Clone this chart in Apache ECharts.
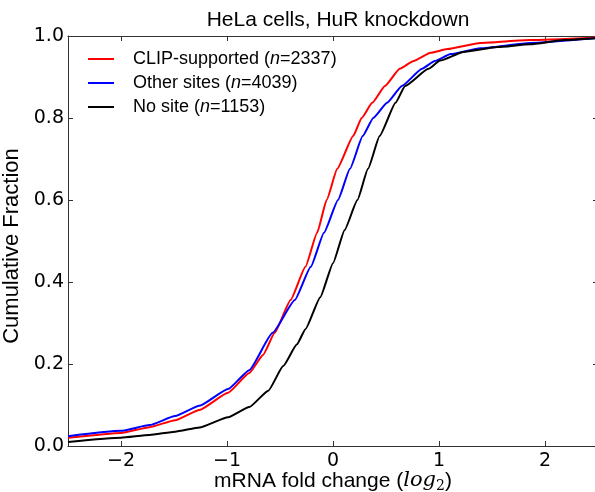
<!DOCTYPE html>
<html>
<head>
<meta charset="utf-8">
<script src="https://cdn.jsdelivr.net/npm/echarts@6/dist/echarts.min.js"></script>
<style>
html,body{margin:0;padding:0;background:#fff;}
#chart{width:595px;height:492px;}
</style>
</head>
<body>
<div id="chart"></div>
<script>
// ---- data ----
const titleText = 'HeLa cells, HuR knockdown';
const xLabelText = 'mRNA fold change';
const yLabelText = 'Cumulative Fraction';
const seriesNames = ['CLIP-supported', 'Other sites', 'No site'];
const seriesCounts = [2337, 4039, 1153];
const seriesColors = ['#ff0000', '#0000ff', '#000000'];
const xTicks = [-2, -1, 0, 1, 2];
const yTicks = [0, 0.2, 0.4, 0.6, 0.8, 1.0];

const clipX = [-2.5, -2.0, -1.73, -1.49, -1.26, -0.99, -0.79, -0.66, -0.55, -0.40, -0.26, -0.15, -0.06, 0.04, 0.19, 0.27, 0.37, 0.49, 0.63, 0.76, 0.92, 1.08, 1.39, 1.86, 2.5];
const clipY = [0.020, 0.032, 0.046, 0.063, 0.088, 0.130, 0.178, 0.222, 0.276, 0.356, 0.437, 0.520, 0.600, 0.676, 0.756, 0.800, 0.837, 0.878, 0.920, 0.939, 0.959, 0.968, 0.983, 0.990, 0.997];

const otherX = [-2.5, -2.0, -1.73, -1.49, -1.26, -0.99, -0.79, -0.57, -0.36, -0.21, -0.085, 0.047, 0.16, 0.28, 0.38, 0.51, 0.65, 0.84, 0.96, 1.11, 1.39, 1.86, 2.5];
const otherY = [0.024, 0.037, 0.051, 0.073, 0.098, 0.139, 0.185, 0.276, 0.356, 0.437, 0.520, 0.600, 0.676, 0.756, 0.800, 0.837, 0.878, 0.920, 0.939, 0.956, 0.970, 0.983, 0.995];

const noneX = [-2.5, -2.0, -1.73, -1.49, -1.26, -0.99, -0.79, -0.61, -0.47, -0.34, -0.26, -0.12, 0.0, 0.11, 0.23, 0.33, 0.44, 0.59, 0.68, 0.90, 1.01, 1.23, 1.55, 1.86, 2.18, 2.5];
const noneY = [0.010, 0.020, 0.027, 0.035, 0.045, 0.070, 0.095, 0.135, 0.195, 0.248, 0.285, 0.363, 0.446, 0.527, 0.600, 0.676, 0.756, 0.837, 0.878, 0.920, 0.940, 0.961, 0.973, 0.980, 0.990, 0.995];

// ---- build ----
const seriesXs = [clipX, otherX, noneX];
const seriesYs = [clipY, otherY, noneY];
const zip = (xs, ys) => xs.map((x, i) => [x, ys[i]]);

const chart = echarts.init(document.getElementById('chart'), null, {renderer: 'canvas'});

const fmtX = v => (v < 0 ? '\u2212' + Math.abs(v) : String(v));
const fmtY = v => v.toFixed(1);
const axisColor = '#333';

const baseX = {
  type: 'value', min: -2.5, max: 2.5,
  splitLine: {show: false},
  axisLine: {show: true, onZero: false, lineStyle: {color: axisColor, width: 1}},
  axisTick: {show: true, inside: true, length: 5, customValues: xTicks, lineStyle: {color: axisColor, width: 1}}
};
const baseY = {
  type: 'value', min: 0, max: 1, interval: 0.2,
  splitLine: {show: false},
  axisLine: {show: true, onZero: false, lineStyle: {color: axisColor, width: 1}},
  axisTick: {show: true, inside: true, length: 5, lineStyle: {color: axisColor, width: 1}}
};

const option = {
  animation: false,
  backgroundColor: '#fff',
  title: {
    text: titleText, left: 333, textAlign: 'center', top: 5,
    textStyle: {fontFamily: 'Liberation Sans', fontSize: 21, fontWeight: 'normal', color: '#000'}
  },
  legend: {
    orient: 'vertical', left: 88, top: 50, padding: 0,
    icon: 'rect', itemWidth: 26, itemHeight: 2, itemGap: 6,
    data: seriesNames.map((n, i) => n + ' (n=' + seriesCounts[i] + ')'),
    formatter: name => name.replace('(n=', '({it|n}='),
    textStyle: {
      fontFamily: 'Liberation Sans', fontSize: 18, color: '#000', lineHeight: 18,
      padding: [0, 0, 0, 14],
      rich: {it: {fontFamily: 'Liberation Sans', fontSize: 18, fontStyle: 'italic', color: '#000'}}
    }
  },
  grid: {left: 68, right: -3, top: 36, bottom: 46, containLabel: false, outerBoundsMode: 'none'},
  xAxis: [
    Object.assign({}, baseX, {
      position: 'bottom',
      axisLabel: {customValues: xTicks, formatter: fmtX, fontFamily: 'DejaVu Sans', fontSize: 19, color: '#000', margin: 6},
      name: xLabelText + ' ({i|log}{s|2})',
      nameLocation: 'middle', nameGap: 23, nameMoveOverlap: false,
      nameTextStyle: {
        fontFamily: 'Liberation Sans', fontSize: 21, color: '#000', lineHeight: 24,
        rich: {
          i: {fontFamily: 'DejaVu Serif', fontStyle: 'italic', fontSize: 21, color: '#000', lineHeight: 24},
          s: {fontFamily: 'DejaVu Serif', fontSize: 14, color: '#000', verticalAlign: 'bottom', lineHeight: 14}
        }
      }
    }),
    Object.assign({}, baseX, {position: 'top', axisLabel: {show: false}})
  ],
  yAxis: [
    Object.assign({}, baseY, {
      position: 'left',
      axisLabel: {formatter: fmtY, fontFamily: 'DejaVu Sans', fontSize: 19, color: '#000', margin: 4},
      name: yLabelText, nameLocation: 'middle', nameGap: 37,
      nameTextStyle: {fontFamily: 'Liberation Sans', fontSize: 22, color: '#000', padding: [0, 10, 0, 0]}
    }),
    Object.assign({}, baseY, {position: 'right', axisLabel: {show: false}})
  ],
  series: seriesNames.map((n, i) => ({
    name: n + ' (n=' + seriesCounts[i] + ')',
    type: 'line',
    xAxisIndex: 0, yAxisIndex: 0,
    data: zip(seriesXs[i], seriesYs[i]),
    symbol: 'none',
    smooth: 0.15,
    smoothMonotone: 'x',
    color: seriesColors[i],
    lineStyle: {color: seriesColors[i], width: 2},
    z: 2 + i
  }))
};
chart.setOption(option);
</script>
</body>
</html>
